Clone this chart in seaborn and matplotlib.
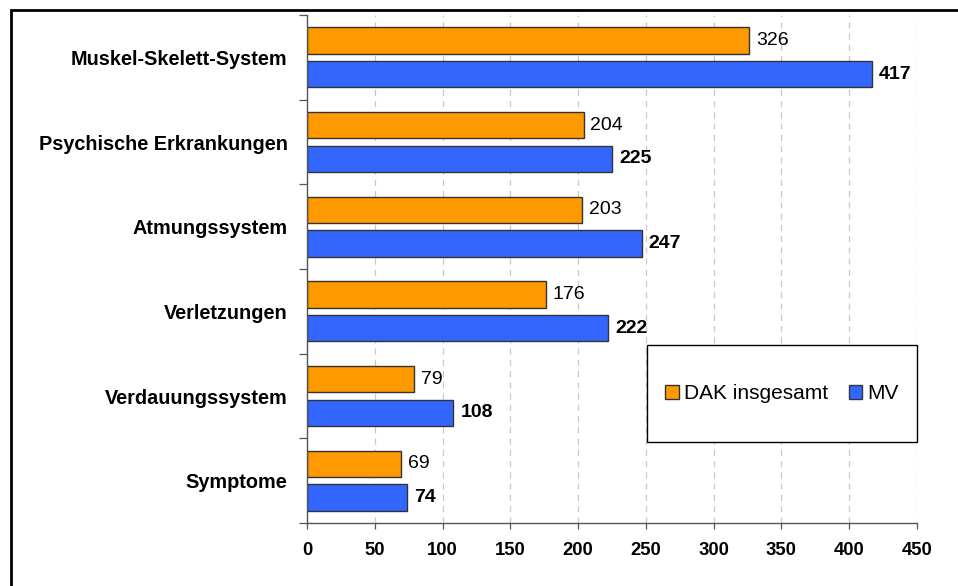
"""Arbeitsunfähigkeitstage je 100 Versicherte: DAK insgesamt vs. MV."""

import matplotlib.pyplot as plt
import pandas as pd
import seaborn as sns
from matplotlib.patches import Rectangle
from matplotlib.ticker import MultipleLocator

CATEGORIES = [
    "Muskel-Skelett-System",
    "Psychische Erkrankungen",
    "Atmungssystem",
    "Verletzungen",
    "Verdauungssystem",
    "Symptome",
]
SERIES = ["DAK insgesamt", "MV"]
DAK_VALUES = [326, 204, 203, 176, 79, 69]
MV_VALUES = [417, 225, 247, 222, 108, 74]
X_TICKS = [0, 50, 100, 150, 200, 250, 300, 350, 400, 450]

COLORS = {"DAK insgesamt": "#FF9900", "MV": "#3366FF"}


def build_frame() -> pd.DataFrame:
    rows = []
    for cat, dak, mv in zip(CATEGORIES, DAK_VALUES, MV_VALUES):
        rows.append({"Kategorie": cat, "Serie": SERIES[0], "Wert": dak})
        rows.append({"Kategorie": cat, "Serie": SERIES[1], "Wert": mv})
    return pd.DataFrame(rows)


def main() -> None:
    sns.set_theme(style="white")
    plt.rcParams["font.family"] = ["Liberation Sans", "DejaVu Sans"]
    plt.rcParams["text.color"] = "black"
    plt.rcParams["xtick.color"] = "black"
    plt.rcParams["ytick.color"] = "black"

    df = build_frame()
    fig = plt.figure(figsize=(9.58, 5.86), dpi=100)
    ax = fig.add_axes([0.3205, 0.1075, 0.6367, 0.8669])

    sns.barplot(
        data=df,
        y="Kategorie",
        x="Wert",
        hue="Serie",
        order=CATEGORIES,
        hue_order=SERIES,
        palette=COLORS,
        orient="h",
        width=0.79,
        gap=0.21,
        edgecolor="#333333",
        linewidth=1.0,
        saturation=1,
        legend=True,
        ax=ax,
    )

    # value labels: DAK regular, MV bold
    for container, weight in zip(ax.containers, ["normal", "bold"]):
        labels = [f"{v:.0f}" for v in container.datavalues]
        ax.bar_label(container, labels=labels, padding=5, fontsize=14,
                     fontweight=weight, color="black")

    ax.set_xlim(0, 450)
    ax.set_ylim(len(CATEGORIES) - 0.5, -0.5)
    ax.set_xticks(X_TICKS)
    ax.set_xlabel("")
    ax.set_ylabel("")
    ax.xaxis.grid(True, linestyle=(0, (5, 4)), color="#c8c8c8", linewidth=0.9)
    ax.set_axisbelow(True)

    ax.yaxis.set_minor_locator(MultipleLocator(1, offset=0.5))
    ax.tick_params(axis="y", which="major", length=0, pad=14,
                   labelsize=14.3)
    ax.tick_params(axis="y", which="minor", length=6, width=0.9,
                   color="#555555", left=True, direction="out")
    ax.tick_params(axis="x", which="major", length=4, width=0.9,
                   color="#555555", bottom=True, direction="out",
                   labelsize=13.3, pad=9.5)
    for lab in ax.get_yticklabels() + ax.get_xticklabels():
        lab.set_fontweight("bold")

    for side in ["top", "right"]:
        ax.spines[side].set_visible(False)
    for side in ["left", "bottom"]:
        ax.spines[side].set_color("#555555")
        ax.spines[side].set_linewidth(1.0)

    # legend inside its own framed box
    handles, labels = ax.get_legend_handles_labels()
    ax.get_legend().remove()
    box = (0.6754, 0.2457, 0.2818, 0.1656)
    fig.patches.append(Rectangle(box[:2], box[2], box[3],
                                 transform=fig.transFigure, facecolor="white",
                                 edgecolor="black", linewidth=1.0, zorder=3))
    fig.legend(handles, labels, loc="center",
               bbox_to_anchor=(box[0] + box[2] / 2, box[1] + box[3] / 2),
               ncol=2, frameon=False, fontsize=15, handlelength=0.65,
               handleheight=0.65, handletextpad=0.25, columnspacing=1.0)

    # outer chart frame (runs off the right and bottom edge)
    fig.patches.append(Rectangle((11 / 958, -0.05), 1.05, 1 - 10 / 586 + 0.05,
                                 transform=fig.transFigure, fill=False,
                                 edgecolor="black", linewidth=2.0))

    fig.savefig("out.png", dpi=100)
    plt.close(fig)


if __name__ == "__main__":
    main()
